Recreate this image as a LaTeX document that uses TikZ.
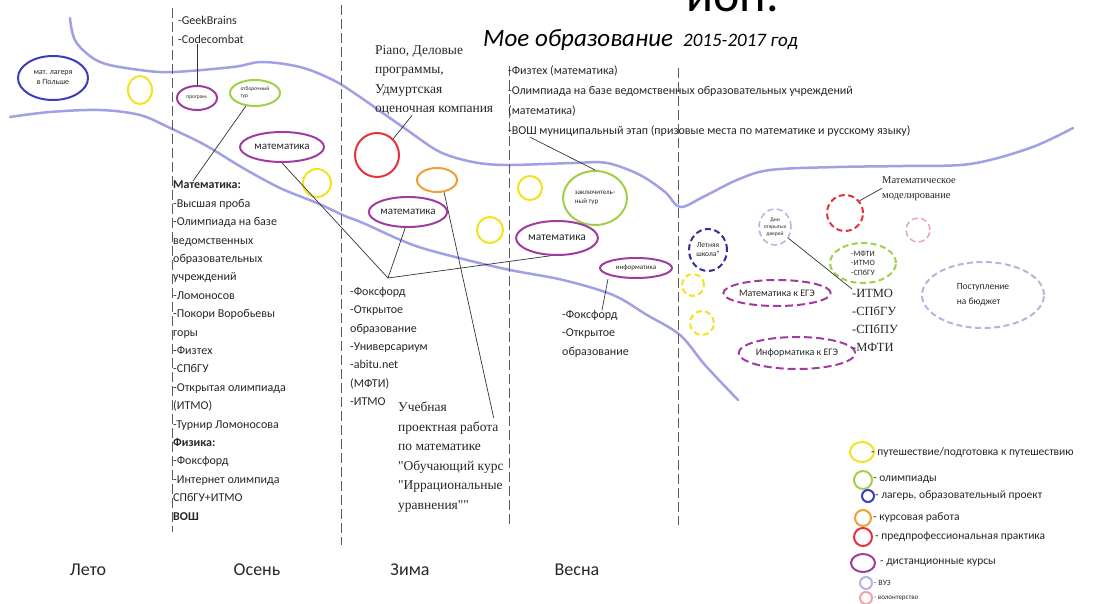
\documentclass[tikz,border=0pt]{standalone}
\usepackage{fontspec}
\setmainfont{Carlito}
\newfontfamily\tms{Liberation Serif}
\usetikzlibrary{shapes.geometric}
\definecolor{river}{RGB}{160,160,228}
\definecolor{cYel}{RGB}{240,228,30}
\definecolor{cGrn}{RGB}{160,208,70}
\definecolor{cBlu}{RGB}{60,60,190}
\definecolor{cOrg}{RGB}{240,160,50}
\definecolor{cRed}{RGB}{230,50,60}
\definecolor{cPur}{RGB}{160,60,160}
\definecolor{cVuz}{RGB}{180,180,225}
\definecolor{cPnk}{RGB}{240,160,175}
\tikzset{
  ring/.style={ellipse, draw, line width=2pt, inner sep=0pt, align=center, text=black!85},
  plan/.style={ring, dash pattern=on 6pt off 3.5pt},
  lst/.style={anchor=north west, inner sep=0pt, align=left, text=black!85,
    font=\fontsize{12}{18.4}\selectfont},
  keytxt/.style={anchor=west, inner sep=0pt, text=black!85, font=\fontsize{11.5}{12}\selectfont},
  season/.style={text=black!85, font=\fontsize{18}{20}\selectfont},
  lnk/.style={draw=black!80, line width=0.7pt},
  sepline/.style={draw=black!65, line width=1pt, dash pattern=on 10pt off 4pt},
  stream/.style={draw=river, line width=2.5pt, line cap=round},
}
\begin{document}
\begin{tikzpicture}[x=1pt, y=-1pt]
\useasboundingbox (0,0) rectangle (1115,604);
\clip (0,0) rectangle (1115,604);

% рекa
\draw[stream] plot[smooth, tension=0.55] coordinates {(70,18) (76,42) (100,62) (140,70)
  (173,72) (233,67) (262,62) (300,67) (333,80) (360,97) (407,130) (440,152) (473,162)
  (507,165) (573,163) (607,163) (640,175) (665,192) (680,207) (703,197) (737,180)
  (770,170) (837,167) (903,166) (970,164) (1030,148) (1073,128)};
\draw[stream] plot[smooth, tension=0.55] coordinates {(10,117) (50,112) (100,110)
  (140,115) (170,128) (205,145) (243,168) (280,188) (317,203) (345,216) (363,223)
  (413,245) (463,259) (510,270) (563,280) (613,295) (647,315) (680,335) (705,365) (738,400)};

% сезоны
\draw[sepline] (172,8) -- (172,532);
\draw[sepline] (341,5) -- (341,545);
\draw[sepline] (509,66) -- (509,525);
\draw[sepline] (678,68) -- (678,525);

\node[anchor=base west, inner sep=0pt, font=\fontsize{50}{50}\selectfont] (cut) at (686,12) {ион.};
\node[anchor=base west, inner sep=0pt, font=\itshape\fontsize{25}{25}\selectfont] (title) at (483,47) {Мое образование};
\node[anchor=base west, inner sep=0pt, font=\itshape\fontsize{19}{19}\selectfont] (years) at (683,47) {2015-2017 год};

% Лето
\node[ring, draw=cBlu, minimum width=70, minimum height=44, font=\fontsize{8}{10}\selectfont] (camp) at (53,78) {мат. лагеря\\в Польше};
\node[ring, draw=cYel, minimum width=24, minimum height=28] (trip1) at (140,90) {};

% Осень
\node[lst, font=\fontsize{12}{19}\selectfont] (geek) at (178,16) {-GeekBrains\\-Codecombat};
\node[ring, draw=cPur, minimum width=40, minimum height=24, font=\fontsize{5.5}{6}\selectfont] (prog) at (197,98) {програм.};
\node[ring, draw=cGrn, minimum width=50, minimum height=26, font=\fontsize{5.5}{7}\selectfont, align=left] (otbor) at (255,93) {отборочный\\тур};
\node[ring, draw=cPur, minimum width=84, minimum height=30, font=\fontsize{11}{12}\selectfont] (mathA) at (282,147) {математика};
\node[ring, draw=cYel, minimum width=28, minimum height=28] (trip2) at (317,183) {};
\node[lst] (olymp) at (173,181) {\textbf{Математика:}\\-Высшая проба\\-Олимпиада на базе\\ведомственных\\образовательных\\учреждений\\-Ломоносов\\-Покори Воробьевы\\горы\\-Физтех\\-СПбГУ\\-Открытая олимпиада\\(ИТМО)\\-Турнир Ломоносова\\\textbf{Физика:}\\-Фоксфорд\\-Интернет олимпида\\СПбГУ+ИТМО\\\textbf{ВОШ}};

% Зима
\node[lst, font=\tms\fontsize{13.5}{19.5}\selectfont] (piano) at (375,45) {Piano, Деловые\\программы,\\Удмуртская\\оценочная компания};
\node[ring, draw=cRed, minimum width=44, minimum height=44] (pract) at (377,155) {};
\node[ring, draw=cOrg, minimum width=40, minimum height=24] (kurs) at (437,180) {};
\node[ring, draw=cPur, minimum width=76, minimum height=30, font=\fontsize{11}{12}\selectfont] (mathB) at (408,212) {математика};
\node[ring, draw=cYel, minimum width=26, minimum height=26] (trip3) at (490,230) {};
\coordinate (hub) at (388,278);
\node[lst] (foxB) at (350,287) {-Фоксфорд\\-Открытое\\образование\\-Универсариум\\-abitu.net\\(МФТИ)\\-ИТМО};
\node[lst, font=\tms\fontsize{13.5}{19.5}\selectfont] (proj) at (398,402) {Учебная\\проектная работа\\по математике\\"Обучающий курс\\"Иррациональные\\уравнения""};

% Весна
\node[lst, font=\fontsize{12}{20}\selectfont] (fiz) at (508,66) {-Физтех (математика)\\-Олимпиада на базе ведомственных образовательных учреждений\\(математика)\\-ВОШ муниципальный этап (призовые места по математике и русскому языку)};
\node[ring, draw=cYel, minimum width=24, minimum height=24] (trip4) at (530,188) {};
\node[ring, draw=cGrn, minimum width=64, minimum height=54, font=\fontsize{7}{9}\selectfont, align=left] (final) at (595,198) {заключитель-\\ный тур};
\node[ring, draw=cPur, minimum width=68, minimum height=34, font=\fontsize{11.5}{12}\selectfont] (mathC) at (557,238) {математика};
\node[ring, draw=cPur, minimum width=72, minimum height=20, font=\fontsize{7}{8}\selectfont] (inf) at (636,268) {информатика};
\node[lst] (foxC) at (562,310) {-Фоксфорд\\-Открытое\\образование};

% после весны
\node[plan, draw=cBlu!80!black, minimum width=38, minimum height=42, font=\fontsize{7.5}{9}\selectfont] (school) at (708,250) {Летняя\\школа"};
\node[plan, draw=cYel, minimum width=22, minimum height=22] (trip5) at (693,285) {};
\node[plan, draw=cYel, minimum width=24, minimum height=24] (trip6) at (702,323) {};
\node[plan, draw=cPur, dash pattern=on 8pt off 4pt, minimum width=94, minimum height=26, font=\fontsize{10}{11}\selectfont] (egeM) at (777,293) {Математика к ЕГЭ};
\node[plan, draw=cPur, dash pattern=on 8pt off 4pt, minimum width=112, minimum height=32, font=\fontsize{10}{11}\selectfont] (egeI) at (797,353) {Информатика к ЕГЭ};
\node[plan, draw=cVuz, line width=1.5pt, minimum width=32, minimum height=36, font=\fontsize{5.5}{7}\selectfont] (days) at (775,227) {Дни\\открытых\\дверей};
\node[lst, font=\tms\fontsize{12.5}{18}\selectfont] (unis) at (852,289) {-ИТМО\\-СПбГУ\\-СПбПУ\\-МФТИ};
\node[plan, draw=cRed, minimum width=36, minimum height=36] (model) at (845,213) {};
\node[lst, font=\tms\fontsize{10.5}{15}\selectfont] (modtxt) at (882,176) {Математическое\\моделирование};
\node[plan, draw=cPnk, line width=1.5pt, minimum width=24, minimum height=24] (volunt) at (918,230) {};
\node[plan, draw=cGrn, minimum width=66, minimum height=40, font=\fontsize{8}{9.5}\selectfont, align=left] (olymp2) at (863,263) {-МФТИ\\-ИТМО\\-СПбГУ};
\node[plan, draw=cVuz, minimum width=122, minimum height=66, font=\fontsize{9.5}{15}\selectfont, align=left] (budget) at (983,295) {Поступление\\на бюджет};

% связи
\draw[lnk] (prog.north) -- (prog.north |- geek.south);
\draw[lnk] (otbor.235) -- ([xshift=20]olymp.north west);
\draw[lnk] (mathA.south) -- (hub);
\draw[lnk] (mathB.260) -- (hub) -- (mathC.250);
\draw[lnk] (pract.north east) -- ([xshift=37]piano.south west);
\draw[lnk] (kurs.-60) -- ([shift={(-10,16)}]proj.north east);
\draw[lnk] ([xshift=22]fiz.south west) -- (final.north);
\draw[lnk] ([xshift=-28]inf.south) -- ([xshift=40]foxC.north west);
\draw[lnk] (days.-40) -- (unis.north west);
\draw[lnk] (model.40) -- (modtxt.west);

% легенда
\node[ring, draw=cYel, minimum width=24, minimum height=20] (kYel) at (862,452) {};
\node[keytxt] (tYel) at (871,452) {- путешествие/подготовка к путешествию};
\node[ring, draw=cGrn, minimum width=18, minimum height=18] (kGrn) at (863,480) {};
\node[keytxt] (tGrn) at (873,480) {- олимпиады};
\node[ring, draw=cBlu, minimum width=12, minimum height=12] (kBlu) at (868,496) {};
\node[keytxt] (tBlu) at (875,496) {- лагерь, образовательный проект};
\node[ring, draw=cOrg, minimum width=16, minimum height=16] (kOrg) at (863,518) {};
\node[keytxt] (tOrg) at (873,518) {- курсовая работа};
\node[ring, draw=cRed, minimum width=18, minimum height=18] (kRed) at (863,537) {};
\node[keytxt] (tRed) at (875,537) {- предпрофессиональная практика};
\node[ring, draw=cPur, minimum width=24, minimum height=18] (kPur) at (863,563) {};
\node[keytxt] (tPur) at (880,563) {- дистанционные курсы};
\node[ring, draw=cVuz, minimum width=12, minimum height=12] (kVuz) at (866,583) {};
\node[keytxt, font=\fontsize{8}{9}\selectfont] (tVuz) at (874,583) {- ВУЗ};
\node[ring, draw=cPnk, minimum width=12, minimum height=12] (kPnk) at (866,598) {};
\node[keytxt, font=\fontsize{7}{8}\selectfont] (tPnk) at (874,598) {- волонтерство};

\node[season] (summer) at (88,570) {Лето};
\node[season] (autumn) at (257,570) {Осень};
\node[season] (winter) at (410,570) {Зима};
\node[season] (spring) at (577,570) {Весна};
\end{tikzpicture}
\end{document}
